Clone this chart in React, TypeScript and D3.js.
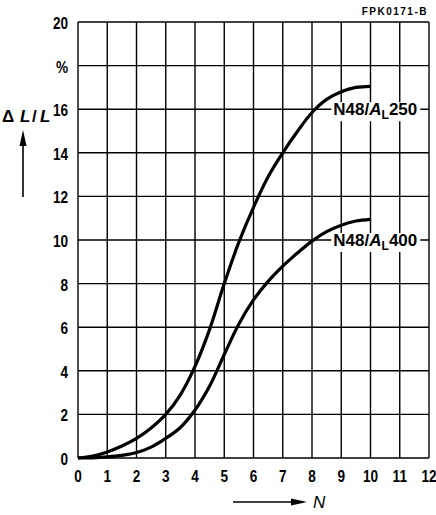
import React, { useEffect, useRef } from 'react';
import * as d3 from 'd3';

// axis ticks
const nTicks = [0, 1, 2, 3, 4, 5, 6, 7, 8, 9, 10, 11, 12];
const yTicks = [0, 2, 4, 6, 8, 10, 12, 14, 16, 18, 20];
const yTickLabels = ['0', '2', '4', '6', '8', '10', '12', '14', '16', '%', '20'];

// curves
const curveN = [0, 0.5, 1, 1.5, 2, 2.5, 3, 3.5, 4, 4.5, 5, 5.5, 6, 6.5, 7, 7.5, 8, 8.5, 9, 9.5, 10];
const al250 = [0, 0.09, 0.28, 0.55, 0.9, 1.38, 2.0, 2.9, 4.2, 5.9, 8.0, 9.9, 11.5, 12.9, 14.0, 14.98, 15.85, 16.45, 16.8, 17.0, 17.05];
const al400 = [0, 0.01, 0.05, 0.12, 0.25, 0.5, 0.9, 1.4, 2.2, 3.3, 4.75, 6.15, 7.25, 8.1, 8.8, 9.4, 9.95, 10.38, 10.68, 10.87, 10.95];

const seriesNames = ['250', '400'];
const labelAt = [{ n: 8.73, y: 16 }, { n: 8.73, y: 10 }];

const FONT = "'Liberation Sans', Arial, sans-serif";

const App = () => {
  const svgRef = useRef(null);
  const width = 436;
  const height = 515;

  useEffect(() => {
    const svg = d3.select(svgRef.current);
    svg.selectAll('*').remove();

    const margin = { top: 22, right: 7, bottom: 57, left: 78 };
    const innerWidth = width - margin.left - margin.right;
    const innerHeight = height - margin.top - margin.bottom;

    const x = d3.scaleLinear().domain([0, 12]).range([0, innerWidth]);
    const y = d3.scaleLinear().domain([0, 20]).range([innerHeight, 0]);

    const g = svg.append('g').attr('transform', `translate(${margin.left},${margin.top})`);

    // grid
    g.append('g')
      .selectAll('line')
      .data(nTicks)
      .enter().append('line')
      .attr('x1', d => x(d)).attr('x2', d => x(d))
      .attr('y1', 0).attr('y2', innerHeight)
      .attr('stroke', '#000').attr('stroke-width', 1.4);

    g.append('g')
      .selectAll('line')
      .data(yTicks)
      .enter().append('line')
      .attr('x1', 0).attr('x2', innerWidth)
      .attr('y1', d => y(d)).attr('y2', d => y(d))
      .attr('stroke', '#000').attr('stroke-width', 1.4);

    // tick labels (narrow, squeezed horizontally)
    g.append('g')
      .selectAll('text')
      .data(yTicks)
      .enter().append('text')
      .attr('transform', d => `translate(-10,${y(d) + 7}) scale(0.8,1)`)
      .attr('text-anchor', 'end')
      .style('font-family', FONT)
      .style('font-size', '17px')
      .style('font-weight', 'bold')
      .text((d, i) => yTickLabels[i]);

    g.append('g')
      .selectAll('text')
      .data(nTicks)
      .enter().append('text')
      .attr('transform', d => `translate(${x(d)},${innerHeight + 24}) scale(0.8,1)`)
      .attr('text-anchor', 'middle')
      .style('font-family', FONT)
      .style('font-size', '17px')
      .style('font-weight', 'bold')
      .text(d => d);

    // curves
    const line = d3.line<number>()
      .x((d, i) => x(curveN[i]))
      .y(d => y(d))
      .curve(d3.curveCatmullRom.alpha(0.5));

    [al250, al400].forEach(vals => {
      g.append('path')
        .datum(vals)
        .attr('d', line)
        .attr('fill', 'none')
        .attr('stroke', '#000')
        .attr('stroke-width', 3.2);
    });

    // curve labels with white background
    seriesNames.forEach((name, i) => {
      const lg = g.append('g');
      const bg = lg.append('rect').attr('fill', '#fff');
      const t = lg.append('text')
        .attr('x', x(labelAt[i].n))
        .attr('y', y(labelAt[i].y) + 6)
        .style('font-family', FONT)
        .style('font-size', '17px')
        .style('font-weight', 'bold');
      t.append('tspan').text('N48/');
      t.append('tspan').style('font-style', 'italic').text('A');
      t.append('tspan').attr('dy', 4).style('font-size', '12px').text('L');
      t.append('tspan').attr('dy', -4).text(name);
      const bb = (t.node() as SVGTextElement).getBBox();
      bg.attr('x', bb.x - 2).attr('y', bb.y + 2).attr('width', bb.width + 5).attr('height', bb.height - 3);
    });

    // y axis title
    const yt = svg.append('text')
      .attr('y', 122)
      .style('font-family', FONT)
      .style('font-size', '17px')
      .style('font-weight', 'bold');
    yt.append('tspan').attr('x', 2).text('Δ');
    yt.append('tspan').attr('x', 20).style('font-style', 'italic').text('L');
    yt.append('tspan').attr('x', 32).text('/');
    yt.append('tspan').attr('x', 40).style('font-style', 'italic').text('L');

    svg.append('line')
      .attr('x1', 23).attr('x2', 23)
      .attr('y1', 197).attr('y2', 142)
      .attr('stroke', '#000').attr('stroke-width', 1.6);
    svg.append('path')
      .attr('d', 'M23,130 L19.5,146 L26.5,146 Z')
      .attr('fill', '#000');

    // x axis title
    svg.append('line')
      .attr('x1', 233).attr('x2', 296)
      .attr('y1', 502).attr('y2', 502)
      .attr('stroke', '#000').attr('stroke-width', 1.6);
    svg.append('path')
      .attr('d', 'M307,502 L291,498.5 L291,505.5 Z')
      .attr('fill', '#000');
    svg.append('text')
      .attr('x', 313)
      .attr('y', 508)
      .style('font-family', FONT)
      .style('font-size', '17px')
      .style('font-style', 'italic')
      .text('N');

    // figure code
    svg.append('text')
      .attr('x', 428)
      .attr('y', 15)
      .attr('text-anchor', 'end')
      .style('font-family', FONT)
      .style('font-size', '10px')
      .style('font-weight', 'bold')
      .style('letter-spacing', '1.5px')
      .text('FPK0171-B');
  }, []);

  return (
    <div style={{ position: 'absolute', left: 0, top: 0 }}>
      <svg ref={svgRef} width={width} height={height} style={{ display: 'block', background: '#fff' }}></svg>
    </div>
  );
};

export default App;
